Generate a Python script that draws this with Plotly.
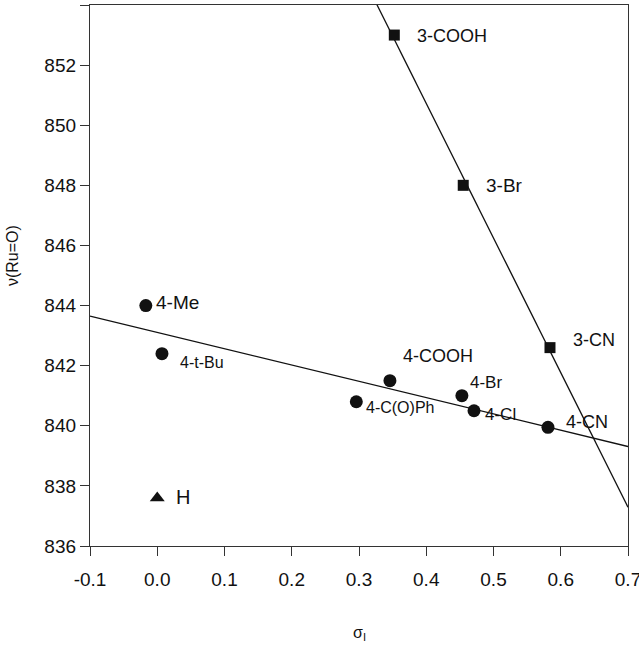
import numpy as np
import plotly.graph_objects as go

# ---- data ----
para_labels = ["4-Me", "4-t-Bu", "4-C(O)Ph", "4-COOH", "4-Br", "4-Cl", "4-CN"]
para_sigma = [-0.017, 0.007, 0.296, 0.346, 0.453, 0.471, 0.581]
para_nu = [844.0, 842.4, 840.8, 841.5, 841.0, 840.5, 839.95]

meta_labels = ["3-COOH", "3-Br", "3-CN"]
meta_sigma = [0.3525, 0.455, 0.584]
meta_nu = [853.0, 848.0, 842.6]

h_label = ["H"]
h_sigma = [0.0]
h_nu = [837.6]

x_ticks = [-0.1, 0.0, 0.1, 0.2, 0.3, 0.4, 0.5, 0.6, 0.7]
y_ticks = [836, 838, 840, 842, 844, 846, 848, 850, 852, 854]

# ---- regression lines ----
xr = np.array([-0.1, 0.7])
p_para = np.polyfit(para_sigma, para_nu, 1)
p_meta = np.polyfit(meta_sigma, meta_nu, 1)

INK = "#111111"
FONT = "Liberation Sans, Arial, sans-serif"

fig = go.Figure()
fig.add_trace(go.Scatter(x=xr, y=np.polyval(p_para, xr), mode="lines",
                         line=dict(color=INK, width=1.3), hoverinfo="skip"))
fig.add_trace(go.Scatter(x=xr, y=np.polyval(p_meta, xr), mode="lines",
                         line=dict(color=INK, width=1.3), hoverinfo="skip"))
fig.add_trace(go.Scatter(x=para_sigma, y=para_nu, mode="markers",
                         marker=dict(symbol="circle", size=13, color=INK),
                         cliponaxis=False))
fig.add_trace(go.Scatter(x=meta_sigma, y=meta_nu, mode="markers",
                         marker=dict(symbol="square", size=11, color=INK),
                         cliponaxis=False))
fig.add_trace(go.Scatter(x=h_sigma, y=h_nu, mode="markers",
                         marker=dict(symbol="triangle-up", size=13, color=INK),
                         cliponaxis=False))

# label offsets in pixels and font sizes (style, not data)
offsets = {
    "4-Me": (8, 3, 19), "4-t-Bu": (16, -9, 16), "4-C(O)Ph": (8, -6, 16),
    "4-COOH": (11, 25, 18), "4-Br": (6, 13, 17), "4-Cl": (9, -4, 17),
    "4-CN": (16, 5, 18), "3-COOH": (21, -1, 18), "3-Br": (21, 0, 19),
    "3-CN": (21, 8, 18), "H": (17, 1, 20),
}
for labs, xs, ys in [(para_labels, para_sigma, para_nu),
                     (meta_labels, meta_sigma, meta_nu),
                     (h_label, h_sigma, h_nu)]:
    for lab, xv, yv in zip(labs, xs, ys):
        dx, dy, fs = offsets[lab]
        fig.add_annotation(x=xv, y=yv, text=lab, showarrow=False,
                           xanchor="left", yanchor="middle",
                           xshift=dx, yshift=dy,
                           font=dict(family=FONT, size=fs, color=INK))

fig.add_annotation(xref="paper", yref="paper", x=0, y=0.536, xshift=-78,
                   text="ν(Ru=O)", textangle=-90, showarrow=False,
                   xanchor="center", yanchor="middle",
                   font=dict(family=FONT, size=16, color=INK))
fig.add_annotation(xref="paper", yref="paper", x=0.500, y=0, yshift=-87,
                   text="σ<sub>I</sub>", showarrow=False,
                   xanchor="center", yanchor="middle",
                   font=dict(family=FONT, size=16, color=INK))

axis_common = dict(showgrid=False, zeroline=False, showline=True, linecolor="#333333",
                   linewidth=1.3, mirror=True, ticks="outside", ticklen=9,
                   tickcolor="#333333", tickwidth=1.2, automargin=False,
                   tickfont=dict(family=FONT, size=19, color=INK))

fig.update_layout(
    width=639, height=668,
    margin=dict(l=90, r=11, t=5, b=122, autoexpand=False),
    paper_bgcolor="white", plot_bgcolor="white",
    showlegend=False,
    xaxis=dict(range=[-0.1, 0.7], tickvals=x_ticks,
               ticktext=[f"{v:.1f}" for v in x_ticks],
               ticklabeloverflow="allow", ticklabelstandoff=7, **axis_common),
    yaxis=dict(range=[836, 854], tickvals=y_ticks,
               ticktext=[str(v) for v in y_ticks], **axis_common),
)

fig.write_html("out.html")
